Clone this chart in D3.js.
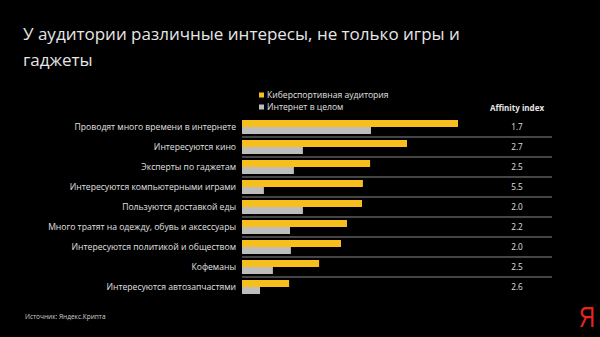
<!DOCTYPE html>
<html><head><meta charset="utf-8">
<script src="https://cdn.jsdelivr.net/npm/d3@7"></script>
<style>html,body{margin:0;padding:0;background:#000;}svg{display:block;}</style>
</head><body>
<svg id="c" width="600" height="337"></svg>
<script>
const categories = [
  "Проводят много времени в интернете",
  "Интересуются кино",
  "Эксперты по гаджетам",
  "Интересуются компьютерными играми",
  "Пользуются доставкой еды",
  "Много тратят на одежду, обувь и аксессуары",
  "Интересуются политикой и обществом",
  "Кофеманы",
  "Интересуются автозапчастями"
];
const esports = [72, 55, 42.7, 40.3, 40, 35, 33, 25.7, 15.7];
const internet = [43, 20.3, 17.3, 7.3, 20.3, 16, 16.3, 10.3, 6];
const affinity = ["1.7", "2.7", "2.5", "5.5", "2.0", "2.2", "2.0", "2.5", "2.6"];
const seriesNames = ["Киберспортивная аудитория", "Интернет в целом"];
const colors = ["#f8bf1c", "#bdbdbd"];

const svg = d3.select("#c");
const font = "'Open Sans', 'Noto Sans', sans-serif";
svg.append("rect").attr("width", 600).attr("height", 337).attr("fill", "#000");

// Title
const title = svg.append("text").attr("font-family", font).attr("font-size", 17).attr("fill", "#e6e6e6");
title.append("tspan").attr("x", 23).attr("y", 40).text("У аудитории различные интересы, не только игры и");
title.append("tspan").attr("x", 23).attr("y", 66).text("гаджеты");

const x = d3.scaleLinear().domain([0, 100]).range([242, 542]);
const y = d3.scaleBand().domain(categories).range([117, 297]).paddingInner(0).paddingOuter(0);
const barH = 7;

const rows = svg.append("g");
categories.forEach((c, i) => {
  const y0 = y(c) + 3;
  rows.append("rect").attr("x", x(0)).attr("y", y0).attr("width", x(esports[i]) - x(0)).attr("height", barH).attr("fill", colors[0]);
  rows.append("rect").attr("x", x(0)).attr("y", y0 + barH).attr("width", x(internet[i]) - x(0)).attr("height", barH).attr("fill", colors[1]);
  rows.append("text").attr("x", 236).attr("y", y0 + barH).attr("dy", "0.35em").attr("text-anchor", "end")
    .attr("font-family", font).attr("font-size", 8.6).attr("fill", "#e0e0e0").text(c);
  rows.append("text").attr("x", 517).attr("y", y0 + barH).attr("dy", "0.35em").attr("text-anchor", "middle")
    .attr("font-family", font).attr("font-size", 8.2).attr("fill", "#e0e0e0").text(affinity[i]);
  if (i < categories.length - 1) {
    rows.append("line").attr("x1", x(0)).attr("x2", 552).attr("y1", y(c) + y.bandwidth()).attr("y2", y(c) + y.bandwidth())
      .attr("stroke", "#8a8a8a").attr("stroke-width", 1);
  }
});

// Legend
seriesNames.forEach((s, i) => {
  const ly = 95 + i * 12;
  svg.append("rect").attr("x", 259).attr("y", ly - 2.5).attr("width", 5).attr("height", 5).attr("fill", colors[i]);
  svg.append("text").attr("x", 267).attr("y", ly).attr("dy", "0.35em").attr("font-family", font)
    .attr("font-size", 8.6).attr("fill", "#e0e0e0").text(s);
});

svg.append("text").attr("x", 517).attr("y", 108).attr("dy", "0.35em").attr("text-anchor", "middle")
  .attr("font-family", font).attr("font-size", 8).attr("font-weight", "bold").attr("fill", "#e6e6e6").text("Affinity index");

svg.append("text").attr("x", 25).attr("y", 317).attr("dy", "0.35em").attr("font-family", font)
  .attr("font-size", 6.5).attr("fill", "#d0d0d0").text("Источник: Яндекс.Крипта");

svg.append("text").attr("x", 595).attr("y", 327).attr("text-anchor", "end")
  .attr("textLength", 16).attr("lengthAdjust", "spacingAndGlyphs")
  .attr("font-family", "'Liberation Sans', sans-serif").attr("font-size", 29)
  .attr("fill", "#e8251d").text("Я");
</script>
</body></html>
